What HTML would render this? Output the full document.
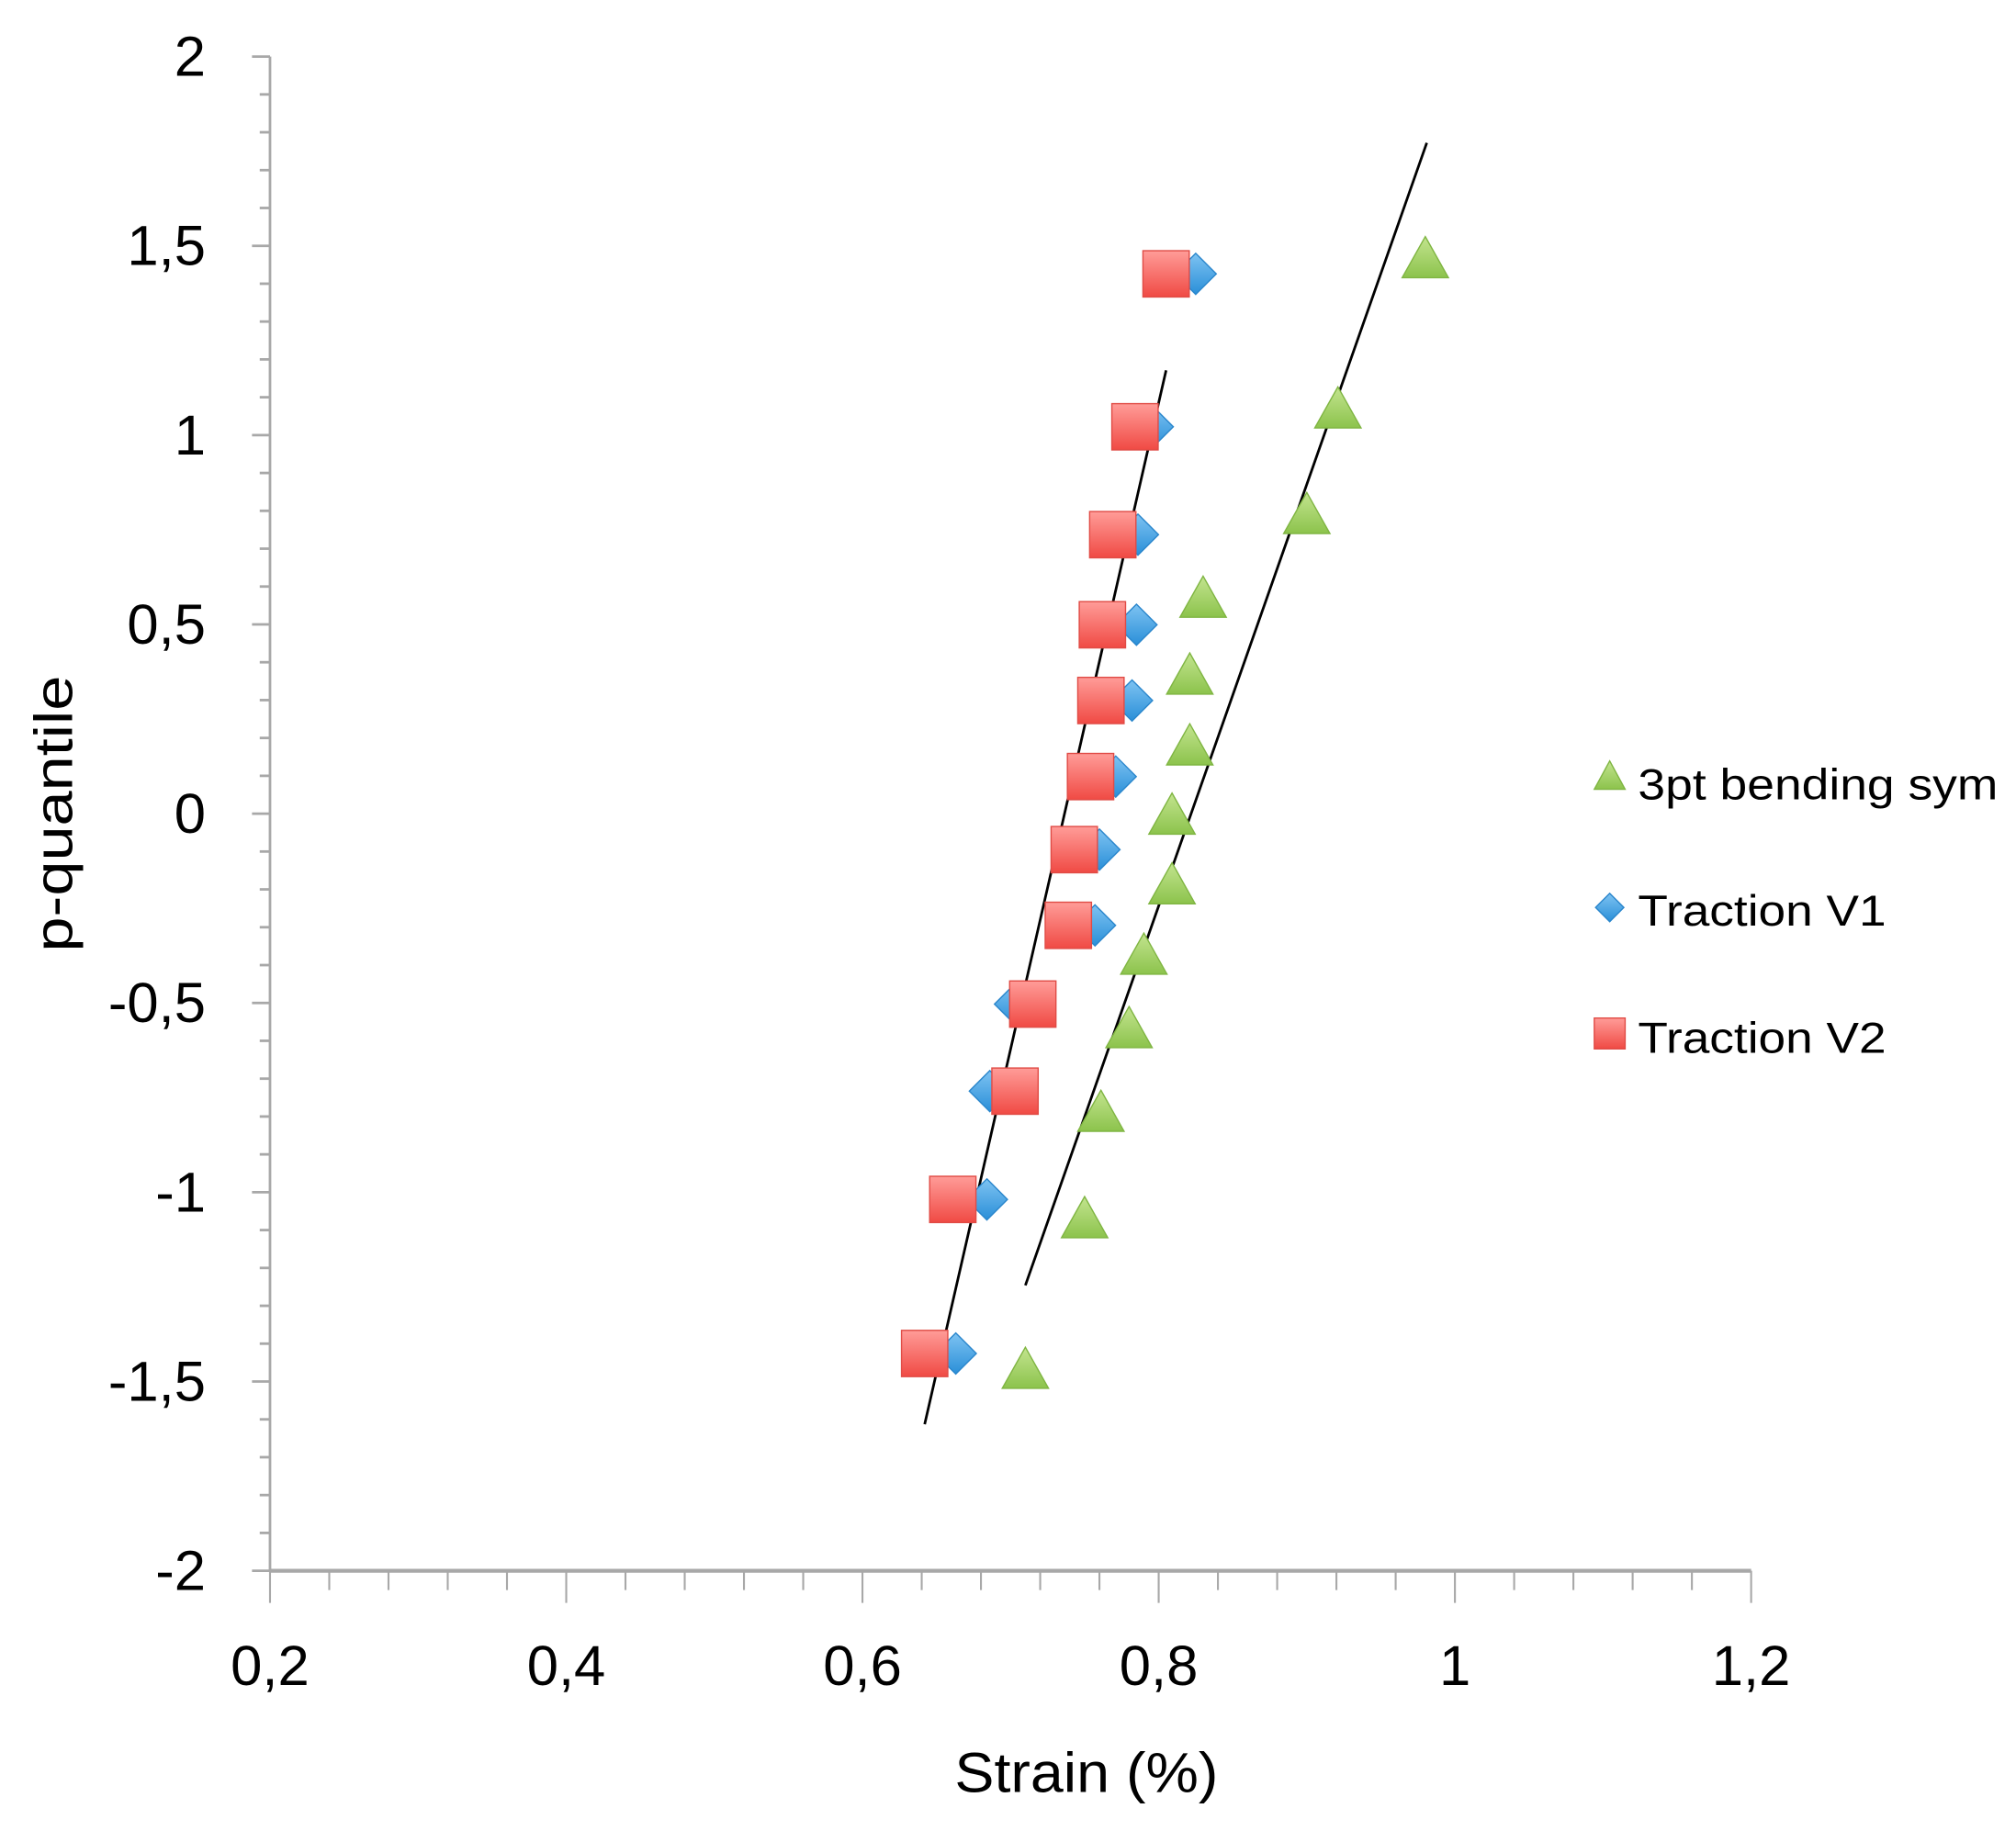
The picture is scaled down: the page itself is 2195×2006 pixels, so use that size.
<!DOCTYPE html>
<html><head><meta charset="utf-8"><style>
html,body{margin:0;padding:0;background:#fff;}
svg{display:block;font-family:"Liberation Sans",sans-serif;}
</style></head><body>
<svg id="chart" width="2195" height="2006" viewBox="0 0 1568 1433" xmlns="http://www.w3.org/2000/svg">
<defs>
<linearGradient id="gR" x1="0" y1="0" x2="0" y2="1"><stop offset="0" stop-color="#ff9c98"/><stop offset="1" stop-color="#f04a44"/></linearGradient>
<linearGradient id="gB" x1="0" y1="0" x2="0" y2="1"><stop offset="0" stop-color="#7ec3f2"/><stop offset="1" stop-color="#2a8fd8"/></linearGradient>
<linearGradient id="gG" x1="0" y1="0" x2="0" y2="1"><stop offset="0" stop-color="#c3e48f"/><stop offset="1" stop-color="#8cc34c"/></linearGradient>
</defs>
<g id="axes"></g>
<g id="trends"></g>
<g id="marks"></g>
<text x="845" y="1394" font-size="44" text-anchor="middle" textLength="205" lengthAdjust="spacingAndGlyphs">Strain (%)</text>
<text transform="translate(56,633) rotate(-90)" font-size="42" text-anchor="middle" textLength="215" lengthAdjust="spacingAndGlyphs">p-quantile</text>
<g>
<polygon points="1252,592 1264,614 1240,614" fill="url(#gG)" stroke="#7fb542" stroke-width="1"/>
<text x="1274" y="622" font-size="34" textLength="280" lengthAdjust="spacingAndGlyphs">3pt bending sym</text>
<polygon points="1252,695 1263,706 1252,717 1241,706" fill="url(#gB)" stroke="#2a86cc" stroke-width="1"/>
<text x="1274" y="720" font-size="34" textLength="193" lengthAdjust="spacingAndGlyphs">Traction V1</text>
<rect x="1240" y="792" width="24" height="24" fill="url(#gR)" stroke="#e04b45" stroke-width="1"/>
<text x="1274" y="819" font-size="34" textLength="193" lengthAdjust="spacingAndGlyphs">Traction V2</text>
</g>
</svg>
<script>
const xTicks=[0.2,0.4,0.6,0.8,1,1.2];
const xTickLabels=["0,2","0,4","0,6","0,8","1","1,2"];
const yTicks=[2,1.5,1,0.5,0,-0.5,-1,-1.5,-2];
const yTickLabels=["2","1,5","1","0,5","0","-0,5","-1","-1,5","-2"];
const v2X=[0.805,0.784,0.769,0.762,0.761,0.754,0.743,0.739,0.715,0.703,0.661,0.642];
const v2Y=[1.426,1.022,0.737,0.499,0.299,0.098,-0.095,-0.295,-0.503,-0.733,-1.019,-1.426];
const v1X=[0.825,0.796,0.786,0.785,0.782,0.771,0.760,0.757,0.703,0.686,0.684,0.663];
const v1Y=[1.426,1.022,0.737,0.499,0.299,0.098,-0.095,-0.295,-0.503,-0.733,-1.019,-1.426];
const gX=[0.980,0.921,0.900,0.830,0.821,0.821,0.809,0.809,0.790,0.780,0.761,0.750,0.710];
const gY=[1.46,1.063,0.784,0.563,0.360,0.173,-0.010,-0.194,-0.380,-0.574,-0.795,-1.076,-1.474];
const trend1X=[0.642,0.805];
const trend1Y=[-1.613,1.171];
const trend2X=[0.710,0.981];
const trend2Y=[-1.246,1.772];

const NS="http://www.w3.org/2000/svg";
const X0=210,X1=1362,Y0=1222,Y1=44;
function sx(v){return X0+(v-0.2)/(1.0)*(X1-X0);}
function sy(v){return Y0-(v+2)/4*(Y0-Y1);}
function mk(tag,attrs,parent){const e=document.createElementNS(NS,tag);for(const k in attrs)e.setAttribute(k,attrs[k]);parent.appendChild(e);return e;}
const axes=document.getElementById('axes');
let e;
e=mk('line',{x1:X0,y1:Y1,x2:X0,y2:Y0,stroke:'#a8a8a8','stroke-width':2},axes);


e=mk('line',{x1:X0,y1:Y0,x2:X1,y2:Y0,stroke:'#a8a8a8','stroke-width':3},axes);


for(let i=0;i<=40;i++){
  const v=-2+i*0.1;const y=sy(v);const major=(i%5===0);
  e=mk('line',{x1:X0-(major?14:8),y1:y,x2:X0,y2:y,stroke:'#a8a8a8','stroke-width':2},axes);
  
  
}
for(let i=0;i<=25;i++){
  const v=0.2+i*0.04;const x=sx(v);const major=(i%5===0);
  e=mk('line',{x1:x,y1:Y0,x2:x,y2:Y0+(major?25:15),stroke:'#a8a8a8','stroke-width':1.5},axes);
  
  
}
xTicks.forEach((v,i)=>{
  const t=mk('text',{x:sx(v),y:1311,'font-size':44,'text-anchor':'middle'},axes);
  t.textContent=xTickLabels[i];
  
  
});
yTicks.forEach((v,i)=>{
  const t=mk('text',{x:160,y:sy(v)+15,'font-size':44,'text-anchor':'end'},axes);
  t.textContent=yTickLabels[i];
  
  
});
const tr=document.getElementById('trends');
e=mk('line',{x1:sx(trend1X[0]),y1:sy(trend1Y[0]),x2:sx(trend1X[1]),y2:sy(trend1Y[1]),stroke:'#000','stroke-width':2},tr);


e=mk('line',{x1:sx(trend2X[0]),y1:sy(trend2Y[0]),x2:sx(trend2X[1]),y2:sy(trend2Y[1]),stroke:'#000','stroke-width':2},tr);


const marks=document.getElementById('marks');
gX.forEach((v,i)=>{
  const x=sx(v),y=sy(gY[i]);
  const p=mk('polygon',{points:`${x},${y-19} ${x+18},${y+13} ${x-18},${y+13}`,fill:'url(#gG)',stroke:'#7fb542','stroke-width':1},marks);
  
  
});
v1X.forEach((v,i)=>{
  const x=sx(v),y=sy(v1Y[i]);
  const p=mk('polygon',{points:`${x},${y-16} ${x+16},${y} ${x},${y+16} ${x-16},${y}`,fill:'url(#gB)',stroke:'#2a86cc','stroke-width':1},marks);
  
  
});
v2X.forEach((v,i)=>{
  const x=sx(v),y=sy(v2Y[i]);
  const p=mk('rect',{x:x-18,y:y-18,width:36,height:36,fill:'url(#gR)',stroke:'#e04b45','stroke-width':1},marks);
  
  
});
</script>
</body></html>
